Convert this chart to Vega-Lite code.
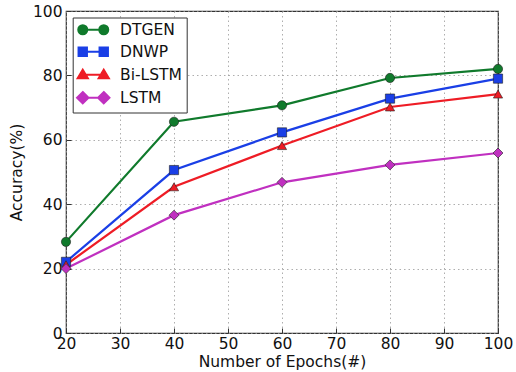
{
  "$schema": "https://vega.github.io/schema/vega-lite/v6.json",
  "width": 432,
  "height": 322,
  "autosize": {"type": "none"},
  "padding": {"left": 66, "top": 11, "right": 18, "bottom": 39},
  "background": "white",
  "config": {
    "font": "DejaVu Sans",
    "view": {"stroke": "#333333", "strokeWidth": 1.2},
    "axis": {
      "labelFont": "DejaVu Sans",
      "titleFont": "DejaVu Sans",
      "labelFontSize": 15.5,
      "titleFontSize": 15.5,
      "labelColor": "#111111",
      "titleColor": "#111111",
      "titleFontWeight": "normal",
      "labelFlush": false,
      "domain": false,
      "tickSize": -5,
      "tickColor": "#333333",
      "grid": true,
      "gridColor": "#999999",
      "gridDash": [1.5, 3],
      "gridWidth": 0.8,
      "gridOpacity": 1
    },
    "legend": {
      "title": null,
      "orient": "none",
      "legendX": 6.7,
      "legendY": 6.5,
      "labelFontSize": 15.5,
      "labelFont": "DejaVu Sans",
      "labelColor": "#111111",
      "symbolSize": 144,
      "symbolStrokeWidth": 2,
      "symbolOffset": 8.3,
      "rowPadding": 4,
      "labelOffset": 19,
      "padding": 4.5,
      "strokeColor": "#333333",
      "fillColor": "white",
      "cornerRadius": 0
    }
  },
  "data": {
    "values": [
      {"epoch": 20, "acc": 28.3, "model": "DTGEN"},
      {"epoch": 40, "acc": 65.6, "model": "DTGEN"},
      {"epoch": 60, "acc": 70.7, "model": "DTGEN"},
      {"epoch": 80, "acc": 79.2, "model": "DTGEN"},
      {"epoch": 100, "acc": 82.0, "model": "DTGEN"},
      {"epoch": 20, "acc": 22.1, "model": "DNWP"},
      {"epoch": 40, "acc": 50.6, "model": "DNWP"},
      {"epoch": 60, "acc": 62.3, "model": "DNWP"},
      {"epoch": 80, "acc": 72.8, "model": "DNWP"},
      {"epoch": 100, "acc": 79.0, "model": "DNWP"},
      {"epoch": 20, "acc": 21.2, "model": "Bi-LSTM"},
      {"epoch": 40, "acc": 45.4, "model": "Bi-LSTM"},
      {"epoch": 60, "acc": 58.2, "model": "Bi-LSTM"},
      {"epoch": 80, "acc": 70.2, "model": "Bi-LSTM"},
      {"epoch": 100, "acc": 74.2, "model": "Bi-LSTM"},
      {"epoch": 20, "acc": 20.0, "model": "LSTM"},
      {"epoch": 40, "acc": 36.6, "model": "LSTM"},
      {"epoch": 60, "acc": 46.8, "model": "LSTM"},
      {"epoch": 80, "acc": 52.2, "model": "LSTM"},
      {"epoch": 100, "acc": 55.9, "model": "LSTM"}
    ]
  },
  "encoding": {
    "x": {
      "field": "epoch", "type": "quantitative",
      "scale": {"domain": [20, 100], "nice": false},
      "axis": {"values": [20, 30, 40, 50, 60, 70, 80, 90, 100], "title": "Number of Epochs(#)", "labelPadding": 8, "titlePadding": 3}
    },
    "y": {
      "field": "acc", "type": "quantitative",
      "scale": {"domain": [0, 100], "nice": false},
      "axis": {"values": [0, 20, 40, 60, 80, 100], "title": "Accuracy(%)", "labelPadding": 9, "titlePadding": 8}
    },
    "color": {
      "field": "model", "type": "nominal",
      "scale": {"domain": ["DTGEN", "DNWP", "Bi-LSTM", "LSTM"], "range": ["#107a2c", "#1a3fe6", "#ee1c25", "#c030c0"]}
    }
  },
  "layer": [
    {
      "mark": {"type": "line", "strokeWidth": 2.2},
      "encoding": {"detail": {"field": "model"}}
    },
    {
      "transform": [{"filter": "datum.model == 'DTGEN'"}],
      "mark": {"type": "point", "shape": "circle", "filled": true, "size": 85, "opacity": 1, "stroke": "#222222", "strokeWidth": 0.6}
    },
    {
      "transform": [{"filter": "datum.model == 'DNWP'"}],
      "mark": {"type": "point", "shape": "square", "filled": true, "size": 85, "opacity": 1, "stroke": "#222222", "strokeWidth": 0.6}
    },
    {
      "transform": [{"filter": "datum.model == 'Bi-LSTM'"}],
      "mark": {"type": "point", "shape": "triangle-up", "filled": true, "size": 85, "opacity": 1, "stroke": "#222222", "strokeWidth": 0.6}
    },
    {
      "transform": [{"filter": "datum.model == 'LSTM'"}],
      "mark": {"type": "point", "shape": "diamond", "filled": true, "size": 100, "opacity": 1, "stroke": "#222222", "strokeWidth": 0.6}
    },
    {
      "transform": [{"filter": "datum.acc < 0"}],
      "mark": {"type": "point", "filled": true, "opacity": 1, "strokeWidth": 2},
      "encoding": {
        "shape": {
          "field": "model", "type": "nominal",
          "scale": {
            "domain": ["DTGEN", "DNWP", "Bi-LSTM", "LSTM"],
            "range": [
              "M-1.75,0L1.75,0M-2.5,0A0.75,0.75 0 1,0 -1,0A0.75,0.75 0 1,0 -2.5,0ZM1,0A0.75,0.75 0 1,0 2.5,0A0.75,0.75 0 1,0 1,0Z",
              "M-1.75,0L1.75,0M-2.45,-0.7L-1.05,-0.7L-1.05,0.7L-2.45,0.7ZM1.05,-0.7L2.45,-0.7L2.45,0.7L1.05,0.7Z",
              "M-1.75,0L1.75,0M-1.75,-0.85L-0.9,0.6L-2.6,0.6ZM1.75,-0.85L2.6,0.6L0.9,0.6Z",
              "M-1.75,0L1.75,0M-1.75,-0.95L-0.8,0L-1.75,0.95L-2.7,0ZM1.75,-0.95L2.7,0L1.75,0.95L0.8,0Z"
            ]
          }
        }
      }
    }
  ]
}
